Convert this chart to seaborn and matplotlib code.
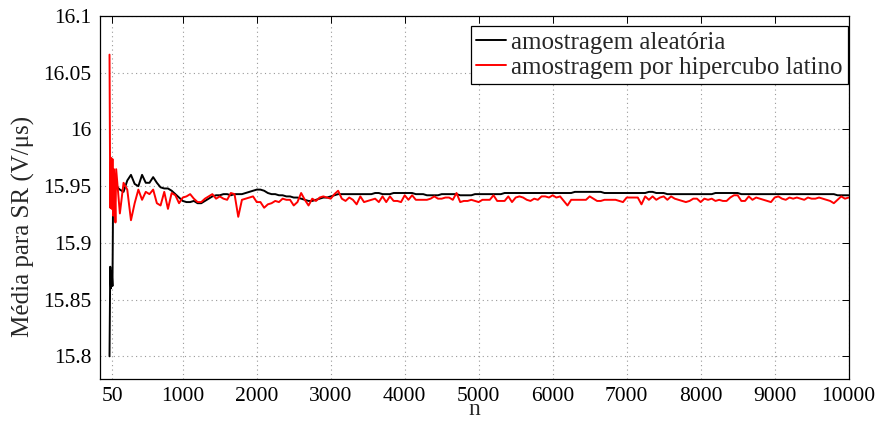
import numpy as np
import pandas as pd
import matplotlib
matplotlib.use("Agg")
import matplotlib.pyplot as plt
import seaborn as sns

# ---- data -------------------------------------------------------------
n_early = [10, 20, 30, 40, 50, 60, 70, 80, 90, 100]
n_late = list(range(150, 10001, 50))
n_values = n_early + n_late

aleatoria = [
    15.800, 15.879, 15.860, 15.875, 15.862, 15.955, 15.962, 15.948, 15.955, 15.950,
    15.947, 15.945, 15.955, 15.960, 15.952, 15.950, 15.960, 15.953, 15.953, 15.958,
    15.953, 15.949, 15.948, 15.948, 15.946, 15.943, 15.940, 15.937,
    15.936, 15.936, 15.937, 15.935, 15.935, 15.937, 15.939, 15.941, 15.942, 15.942,
    15.943, 15.943, 15.942, 15.943, 15.943, 15.943, 15.944, 15.945, 15.946, 15.947,
    15.947, 15.946, 15.944, 15.943, 15.943, 15.942, 15.942, 15.941, 15.941, 15.940,
    15.940, 15.939, 15.938, 15.937, 15.937, 15.938, 15.939, 15.940, 15.940, 15.941,
    15.942, 15.943, 15.943, 15.943, 15.943, 15.943, 15.943, 15.943, 15.943, 15.943,
    15.943, 15.944, 15.944, 15.943, 15.943, 15.943, 15.944, 15.944, 15.944, 15.944,
    15.944, 15.944, 15.943, 15.943, 15.943, 15.942, 15.942, 15.942, 15.942, 15.943,
    15.943, 15.943, 15.943, 15.943, 15.942, 15.942, 15.942, 15.942, 15.943, 15.943,
    15.943, 15.943, 15.943, 15.943, 15.943, 15.943, 15.944, 15.944, 15.944, 15.944,
    15.944, 15.944, 15.944, 15.944, 15.944, 15.944, 15.944, 15.944, 15.944, 15.944,
    15.944, 15.944, 15.944, 15.944, 15.944, 15.945, 15.945, 15.945, 15.945, 15.945,
    15.945, 15.945, 15.945, 15.944, 15.944, 15.944, 15.944, 15.944, 15.944, 15.944,
    15.944, 15.944, 15.944, 15.944, 15.944, 15.945, 15.945, 15.944, 15.944, 15.944,
    15.943, 15.943, 15.943, 15.943, 15.943, 15.943, 15.943, 15.943, 15.943, 15.943,
    15.943, 15.943, 15.943, 15.944, 15.944, 15.944, 15.944, 15.944, 15.944, 15.944,
    15.943, 15.943, 15.943, 15.943, 15.943, 15.943, 15.943, 15.943, 15.943, 15.943,
    15.943, 15.943, 15.943, 15.943, 15.943, 15.943, 15.943, 15.943, 15.943, 15.943,
    15.943, 15.943, 15.943, 15.943, 15.943, 15.943, 15.942, 15.942, 15.942, 15.942,
]

hipercubo = [
    16.066, 15.931, 15.975, 15.930, 15.974, 15.924, 15.965, 15.950, 15.918, 15.965,
    15.926, 15.953, 15.947, 15.920, 15.935, 15.947, 15.938, 15.945, 15.943, 15.947,
    15.935, 15.933, 15.945, 15.930, 15.944, 15.942, 15.935, 15.940,
    15.941, 15.943, 15.939, 15.936, 15.936, 15.939, 15.941, 15.943, 15.939, 15.941,
    15.939, 15.938, 15.944, 15.943, 15.923, 15.938, 15.939, 15.940, 15.941, 15.936,
    15.936, 15.931, 15.934, 15.935, 15.937, 15.936, 15.939, 15.938, 15.938, 15.933,
    15.936, 15.944, 15.938, 15.933, 15.939, 15.937, 15.940, 15.941, 15.940, 15.939,
    15.943, 15.946, 15.939, 15.937, 15.940, 15.938, 15.934, 15.941, 15.936, 15.937,
    15.938, 15.939, 15.936, 15.941, 15.936, 15.941, 15.937, 15.937, 15.936, 15.942,
    15.938, 15.942, 15.938, 15.938, 15.938, 15.938, 15.939, 15.941, 15.939, 15.939,
    15.940, 15.940, 15.938, 15.944, 15.936, 15.937, 15.937, 15.938, 15.937, 15.936,
    15.938, 15.938, 15.938, 15.942, 15.937, 15.937, 15.937, 15.941, 15.936, 15.940,
    15.941, 15.940, 15.938, 15.937, 15.939, 15.938, 15.941, 15.941, 15.940, 15.942,
    15.940, 15.941, 15.937, 15.933, 15.938, 15.938, 15.938, 15.938, 15.938, 15.941,
    15.939, 15.937, 15.937, 15.938, 15.938, 15.938, 15.938, 15.937, 15.936, 15.940,
    15.940, 15.940, 15.940, 15.934, 15.941, 15.938, 15.941, 15.938, 15.940, 15.941,
    15.938, 15.941, 15.939, 15.938, 15.937, 15.936, 15.937, 15.939, 15.939, 15.936,
    15.939, 15.938, 15.939, 15.937, 15.938, 15.937, 15.937, 15.940, 15.942, 15.942,
    15.937, 15.937, 15.941, 15.938, 15.940, 15.939, 15.938, 15.937, 15.936, 15.940,
    15.941, 15.939, 15.938, 15.940, 15.939, 15.940, 15.939, 15.938, 15.940, 15.939,
    15.939, 15.940, 15.939, 15.938, 15.937, 15.935, 15.938, 15.941, 15.939, 15.940,
]

series_names = ["amostragem aleatória", "amostragem por hipercubo latino"]
series_colors = ["black", "red"]
x_ticks = [50, 1000, 2000, 3000, 4000, 5000, 6000, 7000, 8000, 9000, 10000]
y_ticks = [15.8, 15.85, 15.9, 15.95, 16.0, 16.05, 16.1]
y_tick_labels = ["15.8", "15.85", "15.9", "15.95", "16", "16.05", "16.1"]

# ---- frame --------------------------------------------------------------
m = min(len(n_values), len(aleatoria), len(hipercubo))
df = pd.concat([
    pd.DataFrame({"n": n_values[:m], "valor": aleatoria[:m], "serie": series_names[0]}),
    pd.DataFrame({"n": n_values[:m], "valor": hipercubo[:m], "serie": series_names[1]}),
], ignore_index=True)

sns.set_theme(style="white")
plt.rcParams["font.family"] = ["Liberation Serif", "DejaVu Serif"]

fig = plt.figure(figsize=(8.84, 4.23), dpi=100)
ax = fig.add_axes([0.113, 0.104, 0.847, 0.858])

sns.lineplot(data=df, x="n", y="valor", hue="serie", hue_order=series_names,
             palette=dict(zip(series_names, series_colors)), linewidth=1.4,
             estimator=None, sort=False, ax=ax)

ax.set_xlim(-120, 10000)
ax.set_ylim(15.78, 16.1)
ax.set_xticks(x_ticks)
ax.set_xticklabels([str(t) for t in x_ticks])
ax.set_yticks(y_ticks)
ax.set_yticklabels(y_tick_labels)

ax.grid(True, linestyle=(0, (1, 3)), color="#999999", linewidth=0.8)
for s in ax.spines.values():
    s.set_visible(True)
    s.set_color("black")
    s.set_linewidth(0.9)
ax.tick_params(axis="both", which="both", direction="in", length=5, width=0.7,
               top=True, right=True, labelsize=15.5, colors="black")
ax.tick_params(axis="x", pad=6)
ax.tick_params(axis="y", pad=6)

ax.set_xlabel("n", fontsize=17, labelpad=-5)
ax.set_ylabel("Média para SR (V/μs)", fontsize=18)
ax.yaxis.set_label_coords(-0.087, 0.42)

leg = ax.legend(loc="upper right", bbox_to_anchor=(0.999, 0.972), borderaxespad=0,
                fontsize=18, frameon=True, fancybox=False,
                handlelength=1.2, handletextpad=0.2, borderpad=0.2,
                labelspacing=0.12)
leg.get_frame().set_edgecolor("black")
leg.get_frame().set_linewidth(0.9)
leg.get_frame().set_alpha(1)
leg.set_title(None)

fig.savefig("out.png", dpi=100)
